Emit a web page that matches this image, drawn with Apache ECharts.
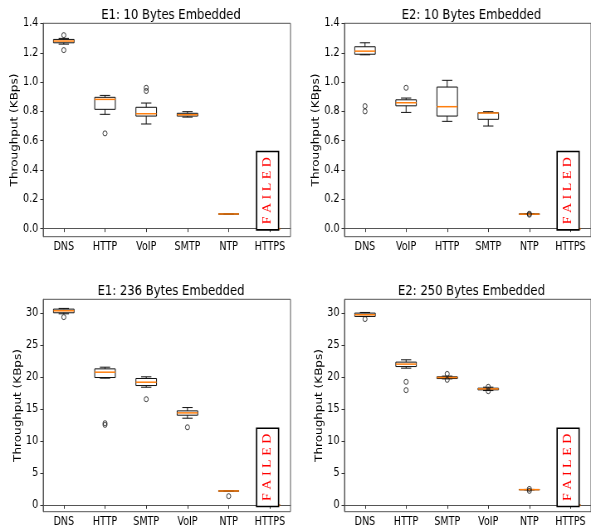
<!DOCTYPE html>
<html>
<head>
<meta charset="utf-8">
<script src="https://cdn.jsdelivr.net/npm/echarts@6/dist/echarts.min.js"></script>
<style>
  html, body { margin: 0; padding: 0; background: #fff; overflow: hidden; }
  #wrap { width: 591px; height: 529px; overflow: hidden; }
  #chart { width: 712px; height: 529px; transform: scaleX(0.83); transform-origin: 0 0; }
</style>
</head>
<body>
<div id="wrap"><div id="chart"></div></div>
<script>
// ---------------- data ----------------
const titles = ['E1: 10 Bytes Embedded', 'E2: 10 Bytes Embedded', 'E1: 236 Bytes Embedded', 'E2: 250 Bytes Embedded'];
const yName = 'Throughput (KBps)';

const cats1 = ['DNS', 'HTTP', 'VoIP', 'SMTP', 'NTP', 'HTTPS'];
const cats2 = ['DNS', 'VoIP', 'HTTP', 'SMTP', 'NTP', 'HTTPS'];
const cats3 = ['DNS', 'HTTP', 'SMTP', 'VoIP', 'NTP', 'HTTPS'];
const cats4 = ['DNS', 'HTTP', 'SMTP', 'VoIP', 'NTP', 'HTTPS'];

// [min whisker, Q1, median, Q3, max whisker]
const box1 = [
  [1.259, 1.268, 1.280, 1.291, 1.298],
  [0.780, 0.814, 0.882, 0.896, 0.909],
  [0.714, 0.768, 0.784, 0.828, 0.857],
  [0.761, 0.768, 0.777, 0.787, 0.798],
  [0.099, 0.0995, 0.100, 0.100, 0.1005],
  [0, 0, 0, 0, 0]
];
const out1 = [[0, 1.320], [0, 1.218], [1, 0.650], [2, 0.961], [2, 0.939]];

const box2 = [
  [1.186, 1.190, 1.211, 1.241, 1.268],
  [0.793, 0.838, 0.859, 0.879, 0.891],
  [0.732, 0.768, 0.832, 0.966, 1.012],
  [0.700, 0.746, 0.789, 0.791, 0.798],
  [0.098, 0.099, 0.099, 0.100, 0.100],
  [0, 0, 0, 0, 0]
];
const out2 = [[0, 0.836], [0, 0.800], [1, 0.961], [4, 0.095], [4, 0.102]];

const box3 = [
  [29.84, 30.00, 30.31, 30.57, 30.68],
  [19.81, 19.91, 20.74, 21.26, 21.52],
  [18.40, 18.66, 19.18, 19.76, 20.02],
  [13.57, 14.04, 14.40, 14.71, 15.23],
  [2.20, 2.21, 2.23, 2.24, 2.25],
  [0, 0, 0, 0, 0]
];
const out3 = [[0, 29.32], [1, 12.79], [1, 12.53], [2, 16.53], [3, 12.16], [4, 1.42]];

const box4 = [
  [29.43, 29.43, 29.69, 29.95, 30.05],
  [21.37, 21.62, 22.00, 22.31, 22.67],
  [19.70, 19.75, 19.91, 20.02, 20.13],
  [17.88, 17.99, 18.14, 18.25, 18.40],
  [2.40, 2.42, 2.44, 2.45, 2.47],
  [0, 0, 0, 0, 0]
];
const out4 = [[0, 29.02], [1, 19.24], [1, 17.94], [2, 20.48], [2, 19.55], [3, 18.46], [3, 17.78], [4, 2.55], [4, 2.25]];

const ticksSmall = [0, 0.2, 0.4, 0.6, 0.8, 1.0, 1.2, 1.4];
const ticksLarge = [0, 5, 10, 15, 20, 25, 30];

const failedIndex = 5;
const failedText = 'F A I L E D';

// ---------------- layout ----------------
const panels = [
  { cats: cats1, box: box1, out: out1, ticks: ticksSmall, dec: 1, min: -0.055, max: 1.401,
    grid: { left: 52, top: 23.3, width: 298, height: 213.4 }, titleX: 201, titleTop: 3 },
  { cats: cats2, box: box2, out: out2, ticks: ticksSmall, dec: 1, min: -0.055, max: 1.401,
    grid: { left: 415, top: 23.3, width: 298, height: 213.4 }, titleX: 563, titleTop: 3 },
  { cats: cats3, box: box3, out: out3, ticks: ticksLarge, dec: 0, min: -1.0, max: 32.1,
    grid: { left: 52, top: 299.3, width: 298, height: 212.4 }, titleX: 201, titleTop: 279 },
  { cats: cats4, box: box4, out: out4, ticks: ticksLarge, dec: 0, min: -1.0, max: 32.1,
    grid: { left: 415, top: 299.3, width: 298, height: 212.4 }, titleX: 563, titleTop: 279 }
];

const FONT = 'DejaVu Sans';
const frameColor = '#555';

function renderBox(params, api) {
  const idx = api.value(0);
  const band = api.size([1, 0])[0];
  const half = band * 0.25;
  const capHalf = band * 0.125;
  const pMin = api.coord([idx, api.value(1)]);
  const pQ1 = api.coord([idx, api.value(2)]);
  const pMed = api.coord([idx, api.value(3)]);
  const pQ3 = api.coord([idx, api.value(4)]);
  const pMax = api.coord([idx, api.value(5)]);
  const x = pMed[0];
  const blk = { stroke: '#111', lineWidth: 1, fill: null };
  return {
    type: 'group',
    children: [
      { type: 'line', shape: { x1: x, y1: pQ1[1], x2: x, y2: pMin[1] }, style: blk },
      { type: 'line', shape: { x1: x, y1: pQ3[1], x2: x, y2: pMax[1] }, style: blk },
      { type: 'line', shape: { x1: x - capHalf, y1: pMin[1], x2: x + capHalf, y2: pMin[1] }, style: blk },
      { type: 'line', shape: { x1: x - capHalf, y1: pMax[1], x2: x + capHalf, y2: pMax[1] }, style: blk },
      { type: 'rect', shape: { x: x - half, y: pQ3[1], width: 2 * half, height: pQ1[1] - pQ3[1] },
        style: { stroke: '#111', lineWidth: 1, fill: 'rgba(255,255,255,0)' } },
      { type: 'line', shape: { x1: x - half, y1: pMed[1], x2: x + half, y2: pMed[1] },
        style: { stroke: '#ff7f0e', lineWidth: 1.5 } }
    ]
  };
}

function renderFailed(params, api) {
  const p = api.coord([api.value(0), api.value(1)]);
  const w = 26.5, h = 78.3;
  const cx = p[0] - 2.8;
  const bottom = p[1] + 1.2;
  return {
    type: 'group',
    children: [
      { type: 'rect', shape: { x: cx - w / 2, y: bottom - h, width: w, height: h },
        style: { fill: '#fff', stroke: '#000', lineWidth: 1.6 } },
      { type: 'text', x: cx, y: bottom - h / 2, rotation: Math.PI / 2,
        style: { text: failedText, fill: '#ff0000', fontSize: 14, fontFamily: 'Liberation Serif',
                 align: 'center', verticalAlign: 'middle', textAlign: 'center', textVerticalAlign: 'middle' } }
    ]
  };
}

const option = {
  animation: false,
  backgroundColor: '#fff',
  title: panels.map((p, i) => ({
    text: titles[i], left: p.titleX, top: p.titleTop, textAlign: 'center',
    textStyle: { fontFamily: FONT, fontSize: 14, fontWeight: 'normal', color: '#000' }
  })),
  grid: panels.map((p, i) => Object.assign({ show: true, borderColor: frameColor, borderWidth: 1, backgroundColor: 'transparent' },
    p.grid, (i % 2 === 1) ? { width: 304 } : {})),
  xAxis: panels.map((p, i) => ({
    type: 'category', gridIndex: i, data: p.cats, boundaryGap: true,
    axisLine: { show: true, lineStyle: { color: frameColor, width: 1 } },
    axisTick: { show: true, alignWithLabel: true, length: 3.5, lineStyle: { color: '#333' } },
    axisLabel: { interval: 0, color: '#000', fontFamily: FONT, fontSize: 11.5, margin: 4.5 },
    splitLine: { show: false }
  })),
  yAxis: panels.map((p, i) => ({
    type: 'value', gridIndex: i, min: p.min, max: p.max,
    name: yName, nameLocation: 'middle', nameGap: 22,
    nameTextStyle: { fontFamily: FONT, fontSize: 12, color: '#000' },
    axisLine: { show: true, lineStyle: { color: frameColor, width: 1 } },
    axisTick: { show: true, length: 3.5, customValues: p.ticks, lineStyle: { color: '#333' } },
    axisLabel: { customValues: p.ticks, color: '#000', fontFamily: FONT, fontSize: 11.5, margin: 6,
                 formatter: v => Number(v).toFixed(p.dec) },
    splitLine: { show: false }
  })),
  series: []
};

panels.forEach((p, i) => {
  option.series.push({
    type: 'custom', xAxisIndex: i, yAxisIndex: i, z: 2,
    data: p.box.map((b, k) => [k].concat(b)),
    encode: { x: 0, y: [1, 2, 3, 4, 5] },
    renderItem: renderBox
  });
  option.series.push({
    type: 'scatter', xAxisIndex: i, yAxisIndex: i, z: 3,
    symbol: 'circle', symbolSize: 5,
    itemStyle: { color: 'rgba(255,255,255,0)', borderColor: '#111', borderWidth: 1 },
    data: p.out
  });
  option.series.push({
    type: 'custom', xAxisIndex: i, yAxisIndex: i, z: 4,
    data: [[failedIndex, 0]],
    encode: { x: 0, y: 1 },
    renderItem: renderFailed
  });
});

const chart = echarts.init(document.getElementById('chart'), null, { renderer: 'canvas' });
chart.setOption(option);
</script>
</body>
</html>
